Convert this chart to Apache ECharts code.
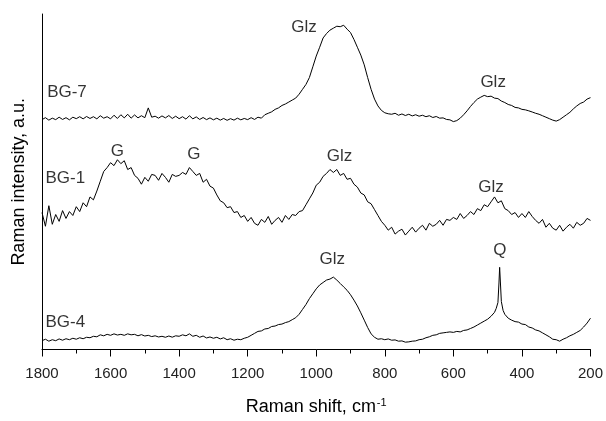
<!DOCTYPE html>
<html>
<head>
<meta charset="utf-8">
<script src="https://cdn.jsdelivr.net/npm/echarts@6/dist/echarts.min.js"></script>
<style>
  html, body { margin: 0; padding: 0; background: #fff; }
  #chart { width: 606px; height: 421px; }
</style>
</head>
<body>
<div id="chart"></div>
<script>
// Raman shift (cm-1), intensity (a.u., traces stacked with offsets)
const bg7 = [
  [1800,235],[1790,237],[1780,234.5],[1770,236.5],[1760,235],[1750,237.5],[1740,235.2],[1730,237],[1720,234.8],[1710,237.5],
  [1700,236],[1690,238],[1680,235.8],[1670,238.2],[1660,236.2],[1650,238],[1640,235.8],[1630,239],[1620,236.5],[1610,238],
  [1600,235.8],[1590,239.5],[1580,236.2],[1570,240],[1560,236.8],[1550,240.5],[1540,236.5],[1530,239.8],[1520,236.8],[1510,239],
  [1500,237],[1490,247],[1480,237.5],[1470,238.5],[1460,236.5],[1450,238.8],[1440,236.8],[1430,239.2],[1420,236.2],[1410,238.5],
  [1400,236],[1390,238],[1380,235.5],[1370,239],[1360,235.8],[1350,237.8],[1340,235.2],[1330,237.2],[1320,235],[1310,236.8],
  [1300,234.8],[1290,236.5],[1280,234.5],[1270,236.2],[1260,234.3],[1250,236],[1240,234.5],[1230,236.5],[1220,234.8],[1210,236.2],
  [1200,235],[1190,237],[1180,235.2],[1170,237.5],[1160,236.5],[1150,240],[1140,241.5],[1130,243],[1120,245.5],[1110,247],
  [1100,249.5],[1090,251],[1080,253],[1070,255],[1060,257],[1050,261],[1040,266],[1030,271],[1020,278],[1010,289],
  [1000,300],[990,309],[980,318.5],[970,323],[960,326.5],[950,328.5],[940,330.5],[930,330],[920,331.5],[910,327.5],
  [900,324],[890,317],[880,309],[870,301],[860,291],[850,278],[840,266],[830,256],[820,249],[810,244.5],
  [800,242],[790,241],[780,240.5],[770,241.5],[760,239.5],[750,240.8],[740,239.2],[730,240.5],[720,238.8],[710,240],
  [700,238.5],[690,239.5],[680,238],[670,239],[660,237.2],[650,238.2],[640,236.5],[630,236.8],[620,235.2],[610,234.8],
  [600,233],[590,234],[580,236.5],[570,240],[560,244],[550,248.5],[540,252.5],[530,256],[520,258],[510,259.8],
  [500,258.5],[490,259],[480,257],[470,256.5],[460,254],[450,252.5],[440,250.5],[430,249.5],[420,247.5],[410,247],
  [400,245.5],[390,245],[380,244],[370,242.8],[360,241.5],[350,240.5],[340,239],[330,237.5],[320,236],[310,234.5],
  [300,233.5],[290,235],[280,237.5],[270,240],[260,242.5],[250,246],[240,249],[230,251.5],[220,253],[210,256],
  [200,257.5]
];

const bg1 = [
  [1800,140],[1790,126],[1780,147],[1770,128],[1760,138],[1750,131],[1740,142],[1730,134],[1720,141],[1710,137],
  [1700,146],[1690,141],[1680,150],[1670,146],[1660,156],[1650,153],[1640,162],[1630,172],[1620,182],[1610,186],
  [1600,191],[1590,188],[1580,194],[1570,190],[1560,193],[1550,184],[1540,186],[1530,178],[1520,175],[1510,169],
  [1500,176],[1490,172],[1480,179],[1470,178],[1460,173],[1450,180],[1440,176],[1430,171],[1420,179],[1410,177],
  [1400,178],[1390,181],[1380,179],[1370,186],[1360,182],[1350,178],[1340,180],[1330,171],[1320,174],[1310,167],
  [1300,165],[1290,158],[1280,152],[1270,150],[1260,145],[1250,146],[1240,140],[1230,141],[1220,135],[1210,137],
  [1200,131],[1190,135],[1180,129],[1170,127],[1160,133],[1150,130],[1140,136],[1130,128],[1120,132],[1110,135],
  [1100,130],[1090,137],[1080,133],[1070,138],[1060,137],[1050,141],[1040,142],[1030,148],[1020,154],[1010,160],
  [1000,168],[990,171],[980,177],[970,180],[960,184],[950,181],[940,184],[930,178],[920,180],[910,174],
  [900,175],[890,169],[880,166],[870,160],[860,158],[850,151],[840,149],[830,143],[820,137],[810,131],
  [800,127],[790,122],[780,125],[770,118],[760,121],[750,123],[740,117],[730,121],[720,125],[710,120],
  [700,124],[690,127],[680,122],[670,129],[660,126],[650,128],[640,132],[630,127],[620,133],[610,132],
  [600,135],[590,133],[580,139],[570,134],[560,137],[550,141],[540,138],[530,144],[520,142],[510,148],
  [500,146],[490,151],[480,156],[470,150],[460,152],[450,144],[440,142],[430,138],[420,140],[410,135],
  [400,139],[390,135],[380,141],[370,136],[360,132],[350,129],[340,133],[330,125],[320,129],[310,124],
  [300,122],[290,127],[280,121],[270,125],[260,128],[250,124],[240,130],[230,127],[220,129],[210,134],
  [200,132]
];

const bg4 = [
  [1800,9],[1790,10.5],[1780,8.5],[1770,10],[1760,9],[1750,10.8],[1740,9.5],[1730,11],[1720,10],[1710,11.5],
  [1700,10.5],[1690,12],[1680,11],[1670,12.5],[1660,12],[1650,13.5],[1640,13],[1630,15],[1620,14],[1610,15.5],
  [1600,14.5],[1590,16],[1580,14.8],[1570,15.5],[1560,14.5],[1550,16],[1540,15],[1530,15.5],[1520,14],[1510,15.2],
  [1500,13.8],[1490,14.5],[1480,13.2],[1470,14],[1460,12.8],[1450,13.5],[1440,12.5],[1430,13.8],[1420,12.6],[1410,14],
  [1400,13.5],[1390,15],[1380,14],[1370,16],[1360,13.5],[1350,14.5],[1340,12.5],[1330,13.8],[1320,11.8],[1310,12.8],
  [1300,11.5],[1290,12.5],[1280,10.8],[1270,12],[1260,10],[1250,11],[1240,9.5],[1230,10.5],[1220,10],[1210,11.5],
  [1200,12.5],[1190,14.5],[1180,16.5],[1170,18.5],[1160,19],[1150,21],[1140,21.5],[1130,23.5],[1120,24],[1110,25.5],
  [1100,26],[1090,27.5],[1080,28.5],[1070,30.5],[1060,32.5],[1050,36],[1040,41],[1030,46],[1020,52],[1010,57],
  [1000,62],[990,66],[980,68.5],[970,71],[960,72],[950,74],[940,71],[930,67.5],[920,64],[910,60.5],
  [900,56],[890,50.5],[880,44.5],[870,37.5],[860,30],[850,22.5],[840,16],[830,12.5],[820,10.5],[810,11],
  [800,10],[790,10.8],[780,9.5],[770,9.8],[760,8.5],[750,8.8],[740,7.5],[730,7.8],[720,8.5],[710,8.8],
  [700,10],[690,10.5],[680,12],[670,13],[660,14.5],[650,15],[640,16.5],[630,17],[620,17.5],[610,18],
  [600,17.5],[590,18.5],[580,18],[570,19.5],[560,20],[550,21.5],[540,23],[530,25],[520,27],[510,29],
  [500,31],[490,34],[480,38],[475,42],[470,48],[467,68],[465,84],[463,70],[460,49],[455,40],
  [450,36],[440,32],[430,30],[420,28.5],[410,28],[400,26],[390,25.5],[380,23],[370,22],[360,20],
  [350,19],[340,17],[330,15],[320,13],[310,10.5],[300,10],[290,8.5],[280,10.5],[270,12],[260,14],
  [250,15.5],[240,17.5],[230,19.5],[220,23],[210,27],[200,32]
];

// sample names and band labels, anchored in data coordinates
const sampleNames = ['BG-7', 'BG-1', 'BG-4'];
const sampleLabelAt = [[1785, 263], [1790, 175], [1790, 28]];
const bandNames = ['Glz', 'Glz', 'G', 'G', 'Glz', 'Glz', 'Glz', 'Q'];
const bandLabelAt = [[1036, 329], [484, 273], [1580, 203], [1357, 200], [932, 197], [490, 166], [953, 92], [464, 101]];

const FONT = '"Liberation Sans", Arial, sans-serif';
const chart = echarts.init(document.getElementById('chart'));

function lineSeries(data) {
  return {
    type: 'line',
    data: data,
    showSymbol: false,
    symbol: 'none',
    lineStyle: { color: '#000', width: 1 },
    silent: true
  };
}

function labelSeries(names, coords, align) {
  return {
    type: 'scatter',
    symbolSize: 0,
    silent: true,
    data: names.map((n, i) => ({ value: coords[i], name: n })),
    label: {
      show: true,
      position: 'inside',
      formatter: (p) => p.name,
      color: '#000',
      fontFamily: FONT,
      fontSize: 17,
      align: align
    }
  };
}

chart.setOption({
  animation: false,
  grid: { left: 42, right: 12, top: 14, bottom: 64 },
  xAxis: {
    type: 'value',
    inverse: true,
    min: 200,
    max: 1800,
    interval: 200,
    name: 'Raman shift, cm{sup|-1}',
    nameLocation: 'middle',
    nameGap: 48,
    nameTextStyle: {
      fontFamily: FONT,
      fontSize: 18,
      color: '#000',
      rich: {
        sup: { fontFamily: FONT, fontSize: 11, color: '#000', verticalAlign: 'top', padding: [0, 0, 8, 1] }
      }
    },
    axisLine: { lineStyle: { color: '#000', width: 1 } },
    axisTick: { show: true, length: 7, lineStyle: { color: '#000' } },
    minorTick: { show: true, splitNumber: 2, length: 4, lineStyle: { color: '#000' } },
    axisLabel: {
      fontFamily: FONT,
      fontSize: 15,
      color: '#222',
      margin: 17,
      formatter: (v) => String(v)
    },
    splitLine: { show: false }
  },
  yAxis: {
    type: 'value',
    min: 0,
    max: 343,
    name: 'Raman intensity, a.u.',
    nameLocation: 'middle',
    nameRotate: 90,
    nameGap: 14,
    nameTextStyle: { fontFamily: FONT, fontSize: 18, color: '#000' },
    axisLine: { show: true, lineStyle: { color: '#000', width: 1 } },
    axisTick: { show: false },
    axisLabel: { show: false },
    splitLine: { show: false }
  },
  series: [
    lineSeries(bg7),
    lineSeries(bg1),
    lineSeries(bg4),
    labelSeries(sampleNames, sampleLabelAt, 'left'),
    labelSeries(bandNames, bandLabelAt, 'center')
  ]
});
</script>
</body>
</html>
